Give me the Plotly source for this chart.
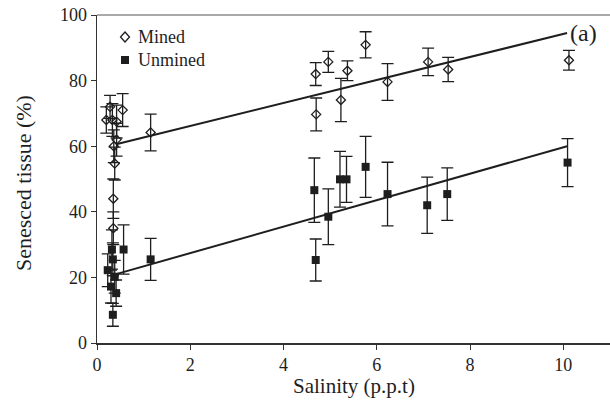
import plotly.graph_objects as go

# ---- data ----
mined_x = [0.20, 0.28, 0.33, 0.42, 0.55, 0.42, 0.36, 0.38, 0.35, 0.35, 1.15,
           4.69, 4.70, 4.96, 5.23, 5.37, 5.76, 6.23, 7.10, 7.53, 10.12]
mined_y = [68.0, 72.0, 68.0, 67.5, 71.0, 62.0, 60.0, 54.7, 44.0, 35.0, 64.2,
           82.0, 69.7, 85.7, 74.1, 83.0, 90.9, 79.6, 85.7, 83.4, 86.2]
mined_err = [4.0, 3.5, 5.0, 5.0, 5.0, 5.0, 5.0, 5.0, 6.0, 5.0, 5.6,
             3.5, 5.0, 3.2, 6.6, 3.0, 4.0, 5.6, 4.2, 3.7, 3.0]

unmined_x = [0.23, 0.30, 0.32, 0.34, 0.38, 0.41, 0.34, 0.57, 1.15,
             4.66, 4.69, 4.96, 5.21, 5.35, 5.76, 6.23, 7.08, 7.51, 10.09]
unmined_y = [22.2, 17.2, 28.5, 25.5, 20.2, 15.2, 8.6, 28.5, 25.5,
             46.6, 25.3, 38.5, 49.9, 49.9, 53.7, 45.4, 42.0, 45.4, 55.0]
unmined_err = [5.0, 5.0, 6.0, 5.0, 5.0, 4.0, 3.5, 7.5, 6.4,
               9.8, 6.4, 8.5, 8.5, 7.0, 9.3, 9.7, 8.6, 8.0, 7.3]

# regression lines (end points)
fit_x = [0.41, 10.08]
mined_fit_y = [60.6, 94.5]
unmined_fit_y = [21.0, 60.0]

x_ticks = [0, 2, 4, 6, 8, 10]
y_ticks = [0, 20, 40, 60, 80, 100]
series_names = ["Mined", "Unmined"]

INK = "#1e1e1e"
FONT = "Liberation Serif"

# figure fills the whole 610x415 window (body margin removed below)
W, H = 610, 415
ML, MT, MB, MR = 97, 15, 72, 0
PW, PH = W - ML - MR, H - MT - MB


def px_to_paper_x(px):
    return (px - ML) / PW


def px_to_paper_y(py):
    return (H - MB - py) / PH


fig = go.Figure()

fig.add_trace(go.Scatter(
    x=fit_x, y=mined_fit_y, mode="lines",
    line=dict(color=INK, width=2), showlegend=False, hoverinfo="skip"))
fig.add_trace(go.Scatter(
    x=fit_x, y=unmined_fit_y, mode="lines",
    line=dict(color=INK, width=2), showlegend=False, hoverinfo="skip"))

fig.add_trace(go.Scatter(
    x=mined_x, y=mined_y, mode="markers", name=series_names[0], showlegend=False,
    marker=dict(symbol="diamond-open", size=7, color=INK, line=dict(width=1.3, color=INK)),
    error_y=dict(type="data", array=mined_err, visible=True, color=INK, thickness=1.3, width=6)))
fig.add_trace(go.Scatter(
    x=unmined_x, y=unmined_y, mode="markers", name=series_names[1], showlegend=False,
    marker=dict(symbol="square", size=8, color=INK, line=dict(width=0)),
    error_y=dict(type="data", array=unmined_err, visible=True, color=INK, thickness=1.3, width=6)))

# hand-drawn legend (symbol + text), placed like the reference
leg_sym_x = px_to_paper_x(125)
leg_txt_x = px_to_paper_x(136)
leg_y = [px_to_paper_y(37), px_to_paper_y(60)]

shapes = [
    # thin frame line along the top of the plot area
    dict(type="line", xref="paper", yref="paper", x0=0, x1=1, y0=1, y1=1,
         line=dict(color="#555", width=1)),
    dict(type="path", xref="paper", yref="paper", xsizemode="pixel", ysizemode="pixel",
         xanchor=leg_sym_x, yanchor=leg_y[0], path="M 0 5 L 4.5 0 L 0 -5 L -4.5 0 Z",
         line=dict(color=INK, width=1.3), fillcolor="white"),
    dict(type="rect", xref="paper", yref="paper", xsizemode="pixel", ysizemode="pixel",
         xanchor=leg_sym_x, yanchor=leg_y[1], x0=-4, x1=4, y0=-4, y1=4,
         line=dict(width=0), fillcolor=INK),
]

annotations = [
    dict(text=series_names[0], xref="paper", yref="paper", x=leg_txt_x, y=leg_y[0],
         xanchor="left", yanchor="middle", showarrow=False,
         font=dict(family=FONT, size=18, color=INK)),
    dict(text=series_names[1], xref="paper", yref="paper", x=leg_txt_x, y=leg_y[1],
         xanchor="left", yanchor="middle", showarrow=False,
         font=dict(family=FONT, size=18, color=INK)),
    dict(text="Salinity (p.p.t)", xref="paper", yref="paper", x=0.5, y=0,
         yshift=-43, xanchor="center", yanchor="middle", showarrow=False,
         font=dict(family=FONT, size=21, color=INK)),
    dict(text="Senesced tissue (%)", xref="paper", yref="paper", x=0, y=px_to_paper_y(183),
         xshift=-74, xanchor="center", yanchor="middle", textangle=-90,
         showarrow=False, font=dict(family=FONT, size=22, color=INK)),
    dict(text="(a)", xref="x", yref="y", x=10.1, y=94.6,
         xanchor="left", yanchor="middle", showarrow=False,
         font=dict(family=FONT, size=24, color=INK)),
]

fig.update_layout(
    width=W, height=H,
    margin=dict(l=ML, r=MR, t=MT, b=MB, pad=0),
    paper_bgcolor="white", plot_bgcolor="white",
    font=dict(family=FONT, size=18, color=INK),
    showlegend=False,
    hovermode=False,
    xaxis=dict(range=[0, 11], tickvals=x_ticks, ticktext=[str(v) for v in x_ticks],
               showgrid=False, zeroline=False, showline=True, linecolor="#333",
               linewidth=1.5, ticks="outside", ticklen=5, tickcolor="#333",
               tickfont=dict(family=FONT, size=18, color=INK), automargin=False,
               ticklabeloverflow="allow", fixedrange=True),
    yaxis=dict(range=[0, 100], tickvals=y_ticks, ticktext=[str(v) for v in y_ticks],
               showgrid=False, zeroline=False, showline=True, linecolor="#333",
               linewidth=1.5, ticks="outside", ticklen=5, tickcolor="#333",
               tickfont=dict(family=FONT, size=18, color=INK), automargin=False,
               ticklabeloverflow="allow", fixedrange=True),
    shapes=shapes,
    annotations=annotations,
)

fig.write_html(
    "out.html",
    config={"displayModeBar": False, "staticPlot": True},
    post_script="document.body.style.margin='0px';document.body.style.overflow='hidden';",
)
